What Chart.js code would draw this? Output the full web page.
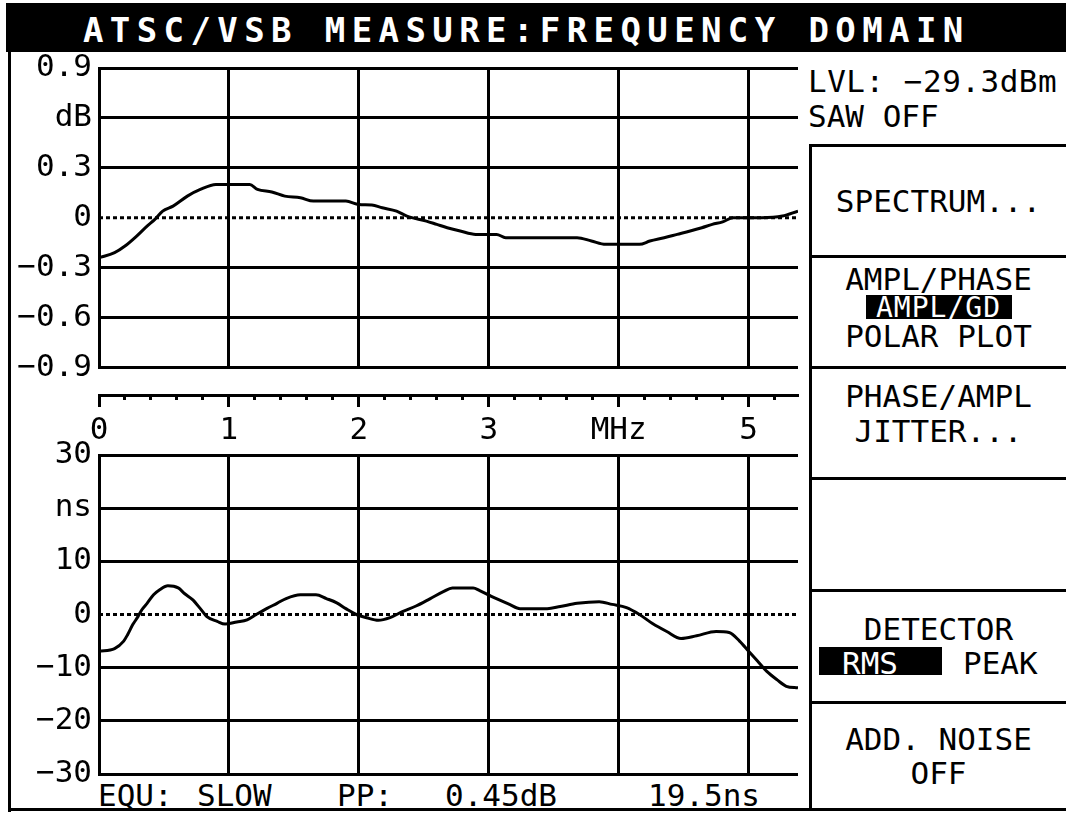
<!DOCTYPE html>
<html>
<head>
<meta charset="utf-8">
<script src="https://cdn.jsdelivr.net/npm/chart.js@4.4.1/dist/chart.umd.min.js"></script>
<style>
  html,body{margin:0;padding:0;background:#fff;overflow:hidden;}
  #wrap{position:relative;width:1066px;height:813px;background:#fff;}
  canvas{position:absolute;left:0;}
  .blk{position:absolute;background:#000;}
  .t{position:absolute;font-family:'DejaVu Sans Mono',monospace;font-size:31px;line-height:31px;white-space:pre;color:#000;}
  .c{left:811px;width:255px;text-align:center;}
  .w{color:#fff;}
  #title{position:absolute;left:83px;top:13px;font-family:'DejaVu Sans Mono',monospace;font-weight:bold;font-size:34px;line-height:34px;letter-spacing:6.4px;color:#fff;white-space:pre;}
</style>
</head>
<body>
<div id="wrap">
  <div class="blk" style="left:6px;top:3px;width:1060px;height:49px;"></div>
  <div id="title">ATSC/VSB MEASURE:FREQUENCY DOMAIN</div>
  <div class="blk" style="left:8px;top:50px;width:3px;height:762px;"></div>
  <div class="blk" style="left:8px;top:808px;width:1058px;height:3px;"></div>
  <div class="blk" style="left:809px;top:144px;width:3px;height:667px;"></div>
  <div class="blk" style="left:809px;top:144px;width:257px;height:3px;"></div>
  <div class="blk" style="left:809px;top:255px;width:257px;height:3px;"></div>
  <div class="blk" style="left:809px;top:366px;width:257px;height:3px;"></div>
  <div class="blk" style="left:809px;top:477px;width:257px;height:3px;"></div>
  <div class="blk" style="left:809px;top:589px;width:257px;height:3px;"></div>
  <div class="blk" style="left:809px;top:701px;width:257px;height:3px;"></div>

  <div class="t" style="left:808px;top:66px;letter-spacing:0.5px;">LVL: −29.3dBm</div>
  <div class="t" style="left:808px;top:101px;">SAW OFF</div>
  <div class="t c" style="top:186px;">SPECTRUM...</div>
  <div class="t c" style="top:264px;">AMPL/PHASE</div>
  <div class="blk" style="left:866px;top:295px;width:146px;height:24px;"></div>
  <div class="t c w" style="top:294px;font-size:28px;line-height:28px;letter-spacing:1px;">AMPL/GD</div>
  <div class="t c" style="top:321px;">POLAR PLOT</div>
  <div class="t c" style="top:381px;">PHASE/AMPL</div>
  <div class="t c" style="top:416px;">JITTER...</div>
  <div class="t c" style="top:614px;">DETECTOR</div>
  <div class="blk" style="left:819px;top:647px;width:123px;height:28px;"></div>
  <div class="t w" style="left:842px;top:648px;">RMS</div>
  <div class="t" style="left:963px;top:648px;">PEAK</div>
  <div class="t c" style="top:724px;">ADD. NOISE</div>
  <div class="t c" style="top:758px;">OFF</div>

  <div class="t" style="left:98px;top:780px;">EQU:</div>
  <div class="t" style="left:197px;top:780px;">SLOW</div>
  <div class="t" style="left:337px;top:780px;">PP:</div>
  <div class="t" style="left:445px;top:780px;">0.45dB</div>
  <div class="t" style="left:648px;top:780px;">19.5ns</div>

  <canvas id="cTop" width="810" height="350" style="top:40px;"></canvas>
  <canvas id="cMid" width="810" height="70" style="top:380px;"></canvas>
  <canvas id="cBot" width="810" height="388" style="top:425px;"></canvas>
</div>
<script>
// ---- data ----
const freqTop = [0, 0.12, 0.2, 0.29, 0.37, 0.43, 0.49, 0.57, 0.68, 0.78, 0.9, 1.05, 1.16, 1.22, 1.33, 1.43, 1.55, 1.65, 1.9, 2.0, 2.1, 2.18, 2.29, 2.37, 2.52, 2.6, 2.68, 2.78, 2.9, 3.06, 3.13, 3.4, 3.68, 3.79, 3.9, 4.05, 4.16, 4.24, 4.35, 4.45, 4.55, 4.64, 4.72, 4.8, 4.88, 5.1, 5.26, 5.38];
const ampTop = [-0.24, -0.21, -0.17, -0.11, -0.05, -0.01, 0.04, 0.07, 0.13, 0.17, 0.2, 0.2, 0.2, 0.17, 0.155, 0.13, 0.12, 0.1, 0.1, 0.08, 0.077, 0.06, 0.04, 0.01, -0.02, -0.04, -0.06, -0.08, -0.1, -0.1, -0.12, -0.12, -0.12, -0.14, -0.16, -0.16, -0.16, -0.14, -0.12, -0.1, -0.08, -0.06, -0.04, -0.025, 0, 0, 0.01, 0.04];
const freqBot = [0, 0.12, 0.19, 0.22, 0.26, 0.3, 0.33, 0.37, 0.42, 0.47, 0.53, 0.61, 0.66, 0.72, 0.78, 0.83, 0.91, 0.97, 1.06, 1.14, 1.21, 1.29, 1.37, 1.44, 1.55, 1.67, 1.75, 1.83, 1.9, 1.98, 2.06, 2.15, 2.24, 2.34, 2.44, 2.55, 2.65, 2.72, 2.88, 2.93, 3.02, 3.16, 3.24, 3.45, 3.55, 3.68, 3.85, 3.95, 4.06, 4.16, 4.26, 4.37, 4.48, 4.6, 4.75, 4.85, 4.93, 5.0, 5.07, 5.14, 5.22, 5.29, 5.38];
const gdBot = [-6.9, -6.4, -5.0, -3.8, -1.9, -0.4, 0.9, 2.1, 3.7, 4.7, 5.4, 5.0, 3.9, 2.8, 1.1, -0.4, -1.3, -1.8, -1.4, -1.0, 0, 1.1, 2.1, 3.0, 3.7, 3.7, 3.0, 2.2, 1.1, 0, -0.6, -1.1, -0.6, 0.6, 1.6, 3.0, 4.3, 5.0, 5.0, 4.5, 3.4, 1.9, 1.1, 1.1, 1.5, 2.1, 2.4, 1.9, 1.3, 0, -1.7, -3.2, -4.5, -4.0, -3.2, -3.4, -5.0, -6.9, -8.8, -10.7, -12.3, -13.5, -13.8];
const freqTicks = [0, 1, 2, 3, 4, 5];
const freqTickLabels = ['0', '1', '2', '3', 'MHz', '5'];
const freqMinorTicks = [0, 0.2, 0.4, 0.6, 0.8, 1, 1.2, 1.4, 1.6, 1.8, 2, 2.2, 2.4, 2.6, 2.8, 3, 3.2, 3.4, 3.6, 3.8, 4, 4.2, 4.4, 4.6, 4.8, 5, 5.2];
const dbTicks = [-0.9, -0.6, -0.3, 0, 0.3, 0.6, 0.9];
const dbTickLabels = ['−0.9', '−0.6', '−0.3', '0', '0.3', 'dB', '0.9'];
const nsTicks = [-30, -20, -10, 0, 10, 20, 30];
const nsTickLabels = ['−30', '−20', '−10', '0', '10', 'ns', '30'];
const freqMax = 5.38;
const zeroRef = [0, 0];
const zeroRefX = [0, 5.38];

// ---- setup ----
const FONT = {family: "'DejaVu Sans Mono', monospace", size: 31, lineHeight: 1};
Chart.defaults.color = '#000';
Chart.defaults.font.family = FONT.family;

function pts(xs, ys) { return xs.map((x, i) => ({x: x, y: ys[i]})); }
function gridColor(ctx) { return (ctx.tick && ctx.tick.value === 0) ? 'rgba(0,0,0,0)' : '#000'; }

function plotChart(id, yTicks, yLabels, xs, ys, pad) {
  return new Chart(document.getElementById(id), {
    type: 'line',
    data: {
      datasets: [
        {data: pts(xs, ys), borderColor: '#000', borderWidth: 3, pointRadius: 0, cubicInterpolationMode: 'monotone', fill: false},
        {data: pts(zeroRefX, zeroRef), borderColor: '#000', borderWidth: 3, borderDash: [4, 3], pointRadius: 0, fill: false}
      ]
    },
    options: {
      responsive: false, animation: false, devicePixelRatio: 1,
      layout: {padding: pad},
      plugins: {legend: {display: false}, tooltip: {enabled: false}},
      scales: {
        x: {
          type: 'linear', min: 0, max: freqMax,
          afterBuildTicks: s => { s.ticks = freqTicks.map(v => ({value: v})); },
          afterFit: s => { s.height = 0; },
          ticks: {display: false},
          grid: {color: '#000', lineWidth: 3, drawTicks: false},
          border: {display: false}
        },
        y: {
          type: 'linear', min: yTicks[0], max: yTicks[yTicks.length - 1],
          afterBuildTicks: s => { s.ticks = yTicks.map(v => ({value: v})); },
          afterFit: s => { s.width = 99; },
          ticks: {font: FONT, color: '#000', padding: 7, autoSkip: false,
                  callback: (v) => yLabels[yTicks.indexOf(v)]},
          grid: {color: gridColor, lineWidth: 3, drawTicks: false},
          border: {display: true, color: '#000', width: 3}
        }
      }
    }
  });
}

plotChart('cTop', dbTicks, dbTickLabels, freqTop, ampTop, {top: 28, right: 12, bottom: 18, left: 0});
plotChart('cBot', nsTicks, nsTickLabels, freqBot, gdBot, {top: 30, right: 12, bottom: 39, left: 0});

new Chart(document.getElementById('cMid'), {
  type: 'line',
  data: {datasets: []},
  options: {
    responsive: false, animation: false, devicePixelRatio: 1,
    layout: {padding: {top: 5, right: 12, bottom: 10, left: 99}},
    plugins: {legend: {display: false}, tooltip: {enabled: false}},
    scales: {
      y: {display: false, min: 0, max: 1},
      xm: {
        type: 'linear', position: 'bottom', axis: 'x', min: 0, max: freqMax, weight: 0,
        afterBuildTicks: s => { s.ticks = freqMinorTicks.map(v => ({value: v})); },
        afterFit: s => { s.height = 0; },
        ticks: {display: false},
        grid: {drawOnChartArea: false, drawTicks: true, tickLength: 5, tickWidth: 3, tickColor: '#000'},
        border: {display: false}
      },
      x: {
        type: 'linear', position: 'bottom', min: 0, max: freqMax, weight: 1,
        afterBuildTicks: s => { s.ticks = freqTicks.map(v => ({value: v})); },
        afterFit: s => { s.height = 45; },
        ticks: {font: FONT, color: '#000', padding: 8, autoSkip: false, maxRotation: 0,
                callback: (v) => freqTickLabels[freqTicks.indexOf(v)]},
        grid: {drawOnChartArea: false, drawTicks: true, tickLength: 12, tickWidth: 3, tickColor: '#000'},
        border: {display: true, color: '#000', width: 3}
      }
    }
  }
});
</script>
</body>
</html>
